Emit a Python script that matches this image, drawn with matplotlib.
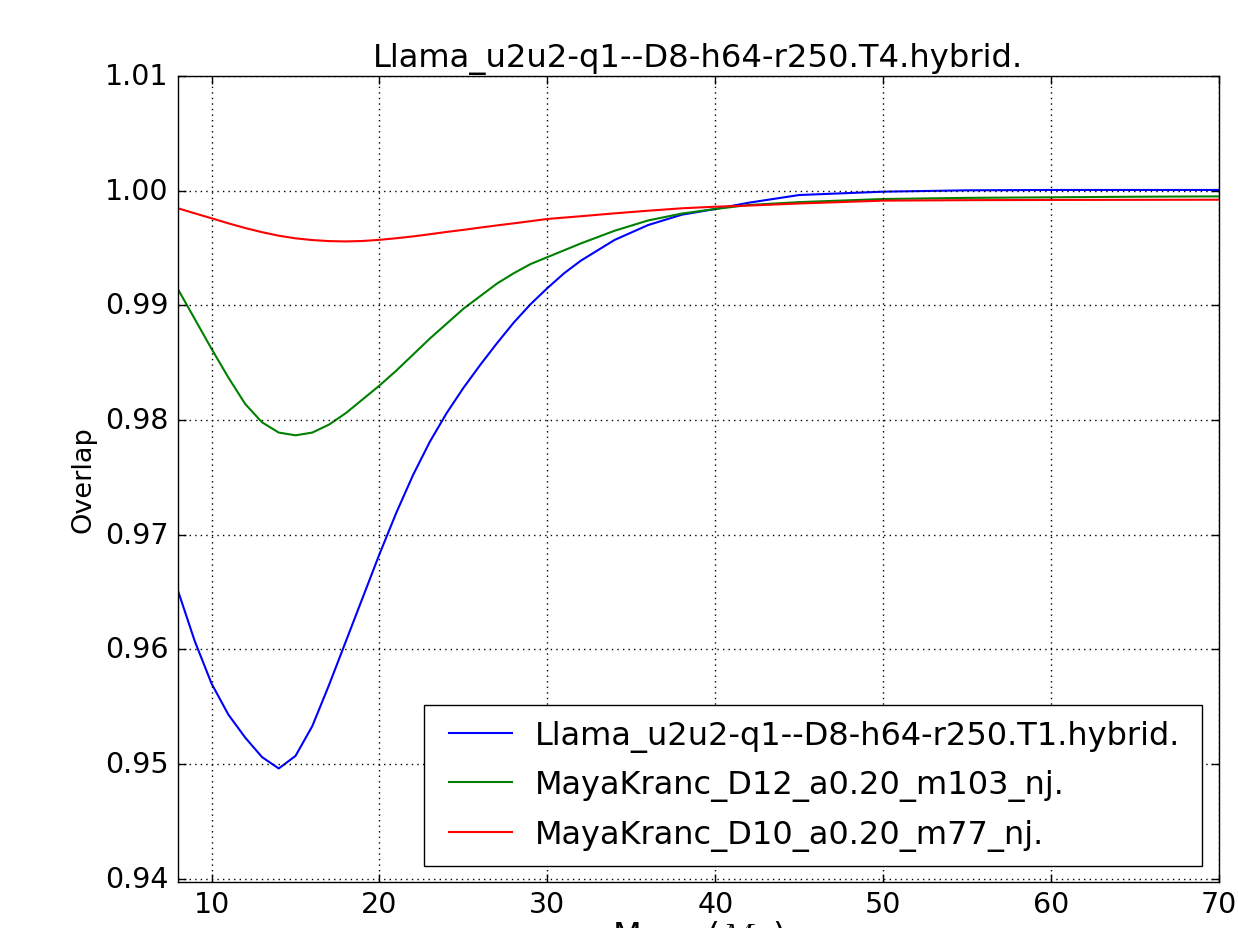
import matplotlib
matplotlib.use('Agg')
import matplotlib.pyplot as plt

plt.style.use('classic')

mass = [8, 9, 10, 11, 12, 13, 14, 15, 16, 17, 18, 19, 20, 21, 22, 23, 24, 25,
        26, 27, 28, 29, 30, 31, 32, 34, 36, 38, 40, 42, 45, 50, 55, 60, 65, 70]

llama_t1 = [0.9651, 0.9607, 0.9570, 0.9543, 0.9523, 0.9506, 0.9496, 0.9507,
            0.9533, 0.9569, 0.9607, 0.9645, 0.9683, 0.9719, 0.9752, 0.9781,
            0.9806, 0.9828, 0.9848, 0.9867, 0.9885, 0.9901, 0.9915, 0.9928,
            0.9939, 0.9957, 0.9970, 0.9979, 0.9984, 0.99895, 0.99962, 0.99991,
            1.00003, 1.00006, 1.00006, 1.00006]

maya_d12 = [0.9914, 0.9888, 0.9862, 0.9837, 0.9814, 0.9798, 0.9789, 0.97866,
            0.9789, 0.9796, 0.9806, 0.9818, 0.9830, 0.9843, 0.9857, 0.9871,
            0.9884, 0.9897, 0.9908, 0.9919, 0.9928, 0.9936, 0.9942, 0.9948,
            0.9954, 0.9965, 0.9974, 0.9980, 0.9984, 0.99875, 0.9990, 0.99927,
            0.99937, 0.99942, 0.99947, 0.9995]

maya_d10 = [0.99846, 0.99802, 0.99759, 0.99715, 0.99674, 0.99638, 0.99607,
            0.99584, 0.99569, 0.99560, 0.99557, 0.99561, 0.99571, 0.99585,
            0.99601, 0.99620, 0.99640, 0.99658, 0.99678, 0.99697, 0.99715,
            0.99734, 0.99753, 0.99765, 0.99777, 0.99802, 0.99825, 0.99846,
            0.99860, 0.99870, 0.99888, 0.99913, 0.99917, 0.99919, 0.9992,
            0.99921]

labels = ['Llama_u2u2-q1--D8-h64-r250.T1.hybrid.',
          'MayaKranc_D12_a0.20_m103_nj.',
          'MayaKranc_D10_a0.20_m77_nj.']

W, H = 1238, 929
fig = plt.figure(figsize=(W / 100, H / 100), dpi=100, facecolor='white')
ax = fig.add_axes([178 / W, (H - 883) / H, (1219 - 178) / W, (883 - 77) / H])

ax.plot(mass, llama_t1, color='b', linewidth=1.5, label=labels[0])
ax.plot(mass, maya_d12, color='g', linewidth=1.5, label=labels[1])
ax.plot(mass, maya_d10, color='r', linewidth=1.5, label=labels[2])

ax.set_xlim(8, 70)
ax.set_ylim(0.9397, 1.01)
ax.set_yticks([0.94, 0.95, 0.96, 0.97, 0.98, 0.99, 1.00, 1.01])
ax.set_yticklabels(['0.94', '0.95', '0.96', '0.97', '0.98', '0.99', '1.00', '1.01'])
ax.set_xticks([10, 20, 30, 40, 50, 60, 70])
ax.tick_params(labelsize=20.5, length=6, width=1)
ax.tick_params(axis='y', pad=7)
ax.tick_params(axis='x', pad=6)
ax.grid(True, color='k', linestyle=':', linewidth=1)

ax.set_title('Llama_u2u2-q1--D8-h64-r250.T4.hybrid.', fontsize=23.2, pad=7)
ax.set_ylabel('Overlap', fontsize=19.5, labelpad=6)
ax.set_xlabel(r'Mass ($M_{\odot}$)', fontsize=24)
ax.xaxis.set_label_coords(0.5, -0.046)

# legend frame spans x 424..1202 px, bottom at 867 px
ax.legend(loc='lower left', fontsize=23, frameon=True, handlelength=2.6,
          handletextpad=0.4, labelspacing=0.55, borderpad=0.47,
          borderaxespad=0, mode='expand',
          bbox_to_anchor=((424 - 178) / 1041, (883 - 867) / 806,
                          (1202 - 424) / 1041, 0.2))

fig.savefig('out.png', dpi=100, facecolor='white')
